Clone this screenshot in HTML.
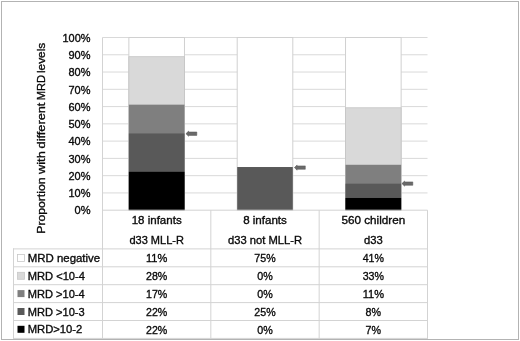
<!DOCTYPE html>
<html><head><meta charset="utf-8"><title>MRD levels</title>
<style>html,body{margin:0;padding:0;background:#fff;}body{width:520px;height:341px;overflow:hidden;font-family:"Liberation Sans",sans-serif;}svg{display:block;will-change:transform;filter:blur(0.35px);}</style>
</head><body>
<svg width="520" height="341" viewBox="0 0 520 341">
<rect x="1.5" y="1.5" width="517" height="338" fill="#fff" stroke="#b3b3b3" stroke-width="1"/>
<line x1="102.5" x2="427.5" y1="192.93" y2="192.93" stroke="#d9d9d9" stroke-width="1"/>
<line x1="102.5" x2="427.5" y1="175.66" y2="175.66" stroke="#d9d9d9" stroke-width="1"/>
<line x1="102.5" x2="427.5" y1="158.39" y2="158.39" stroke="#d9d9d9" stroke-width="1"/>
<line x1="102.5" x2="427.5" y1="141.12" y2="141.12" stroke="#d9d9d9" stroke-width="1"/>
<line x1="102.5" x2="427.5" y1="123.85" y2="123.85" stroke="#d9d9d9" stroke-width="1"/>
<line x1="102.5" x2="427.5" y1="106.58" y2="106.58" stroke="#d9d9d9" stroke-width="1"/>
<line x1="102.5" x2="427.5" y1="89.31" y2="89.31" stroke="#d9d9d9" stroke-width="1"/>
<line x1="102.5" x2="427.5" y1="72.04" y2="72.04" stroke="#d9d9d9" stroke-width="1"/>
<line x1="102.5" x2="427.5" y1="54.77" y2="54.77" stroke="#d9d9d9" stroke-width="1"/>
<line x1="102.5" x2="427.5" y1="37.50" y2="37.50" stroke="#d9d9d9" stroke-width="1"/>
<rect x="128.87" y="37.50" width="55.6" height="172.70" fill="#fff" stroke="#d0d0d0" stroke-width="1"/>
<rect x="128.87" y="56.69" width="55.6" height="153.51" fill="#d9d9d9" stroke="#c4c4c4" stroke-width="0.8"/>
<rect x="128.87" y="104.66" width="55.6" height="105.54" fill="#7f7f7f"/>
<rect x="128.87" y="133.45" width="55.6" height="76.75" fill="#595959"/>
<rect x="128.87" y="171.83" width="55.6" height="38.37" fill="#000000"/>
<rect x="237.20" y="37.50" width="55.6" height="172.70" fill="#fff" stroke="#d0d0d0" stroke-width="1"/>
<rect x="237.20" y="167.02" width="55.6" height="43.18" fill="#595959"/>
<rect x="345.53" y="37.50" width="55.6" height="172.70" fill="#fff" stroke="#d0d0d0" stroke-width="1"/>
<rect x="345.53" y="107.79" width="55.6" height="102.41" fill="#d9d9d9" stroke="#c4c4c4" stroke-width="0.8"/>
<rect x="345.53" y="164.78" width="55.6" height="45.42" fill="#7f7f7f"/>
<rect x="345.53" y="183.69" width="55.6" height="26.51" fill="#595959"/>
<rect x="345.53" y="197.99" width="55.6" height="12.21" fill="#000000"/>
<line x1="102.5" x2="427.5" y1="210.2" y2="210.2" stroke="#d3d3d3"/>
<line x1="13" x2="428.0" y1="248.9" y2="248.9" stroke="#d3d3d3"/>
<line x1="13" x2="428.0" y1="266.8" y2="266.8" stroke="#d3d3d3"/>
<line x1="13" x2="428.0" y1="284.7" y2="284.7" stroke="#d3d3d3"/>
<line x1="13" x2="428.0" y1="302.6" y2="302.6" stroke="#d3d3d3"/>
<line x1="13" x2="428.0" y1="320.5" y2="320.5" stroke="#d3d3d3"/>
<line x1="13" x2="428.0" y1="338.4" y2="338.4" stroke="#d3d3d3"/>
<line x1="13.5" x2="13.5" y1="248.4" y2="338.9" stroke="#d3d3d3"/>
<line x1="102.5" x2="102.5" y1="37.5" y2="338.9" stroke="#d3d3d3"/>
<line x1="210.83" x2="210.83" y1="210.2" y2="338.9" stroke="#d3d3d3"/>
<line x1="319.17" x2="319.17" y1="210.2" y2="338.9" stroke="#d3d3d3"/>
<line x1="427.50" x2="427.50" y1="210.2" y2="338.9" stroke="#d3d3d3"/>
<path d="M185.9 133.7 l2.7 -2.6 v0.9 h8.2 v3.4 h-8.2 v0.9 z" fill="#6a6a6a" stroke="#555" stroke-width="0.5" stroke-linejoin="round"/>
<path d="M294.4 167.6 l2.7 -2.6 v0.9 h8.2 v3.4 h-8.2 v0.9 z" fill="#6a6a6a" stroke="#555" stroke-width="0.5" stroke-linejoin="round"/>
<path d="M401.9 183.6 l2.7 -2.6 v0.9 h8.2 v3.4 h-8.2 v0.9 z" fill="#6a6a6a" stroke="#555" stroke-width="0.5" stroke-linejoin="round"/>
<text x="90.5" y="213.8" font-size="11.5" text-anchor="end" textLength="16.0" lengthAdjust="spacingAndGlyphs" font-family="Liberation Sans, sans-serif" fill="#0a0a0a" stroke="#0a0a0a" stroke-width="0.35">0%</text>
<text x="90.5" y="197.13" font-size="11.5" text-anchor="end" textLength="22.0" lengthAdjust="spacingAndGlyphs" font-family="Liberation Sans, sans-serif" fill="#0a0a0a" stroke="#0a0a0a" stroke-width="0.35">10%</text>
<text x="90.5" y="179.86" font-size="11.5" text-anchor="end" textLength="22.0" lengthAdjust="spacingAndGlyphs" font-family="Liberation Sans, sans-serif" fill="#0a0a0a" stroke="#0a0a0a" stroke-width="0.35">20%</text>
<text x="90.5" y="162.59" font-size="11.5" text-anchor="end" textLength="22.0" lengthAdjust="spacingAndGlyphs" font-family="Liberation Sans, sans-serif" fill="#0a0a0a" stroke="#0a0a0a" stroke-width="0.35">30%</text>
<text x="90.5" y="145.32" font-size="11.5" text-anchor="end" textLength="22.0" lengthAdjust="spacingAndGlyphs" font-family="Liberation Sans, sans-serif" fill="#0a0a0a" stroke="#0a0a0a" stroke-width="0.35">40%</text>
<text x="90.5" y="128.05" font-size="11.5" text-anchor="end" textLength="22.0" lengthAdjust="spacingAndGlyphs" font-family="Liberation Sans, sans-serif" fill="#0a0a0a" stroke="#0a0a0a" stroke-width="0.35">50%</text>
<text x="90.5" y="110.78" font-size="11.5" text-anchor="end" textLength="22.0" lengthAdjust="spacingAndGlyphs" font-family="Liberation Sans, sans-serif" fill="#0a0a0a" stroke="#0a0a0a" stroke-width="0.35">60%</text>
<text x="90.5" y="93.51" font-size="11.5" text-anchor="end" textLength="22.0" lengthAdjust="spacingAndGlyphs" font-family="Liberation Sans, sans-serif" fill="#0a0a0a" stroke="#0a0a0a" stroke-width="0.35">70%</text>
<text x="90.5" y="76.24" font-size="11.5" text-anchor="end" textLength="22.0" lengthAdjust="spacingAndGlyphs" font-family="Liberation Sans, sans-serif" fill="#0a0a0a" stroke="#0a0a0a" stroke-width="0.35">80%</text>
<text x="90.5" y="58.97" font-size="11.5" text-anchor="end" textLength="22.0" lengthAdjust="spacingAndGlyphs" font-family="Liberation Sans, sans-serif" fill="#0a0a0a" stroke="#0a0a0a" stroke-width="0.35">90%</text>
<text x="90.5" y="41.7" font-size="11.5" text-anchor="end" textLength="28.0" lengthAdjust="spacingAndGlyphs" font-family="Liberation Sans, sans-serif" fill="#0a0a0a" stroke="#0a0a0a" stroke-width="0.35">100%</text>
<text transform="translate(44.7,233.7) rotate(-90)" font-size="11.5" text-anchor="start" textLength="56.2" lengthAdjust="spacingAndGlyphs" font-family="Liberation Sans, sans-serif" fill="#0a0a0a" stroke="#0a0a0a" stroke-width="0.35">Proportion</text>
<text transform="translate(44.7,174.1) rotate(-90)" font-size="11.5" text-anchor="start" textLength="22.9" lengthAdjust="spacingAndGlyphs" font-family="Liberation Sans, sans-serif" fill="#0a0a0a" stroke="#0a0a0a" stroke-width="0.35">with</text>
<text transform="translate(44.7,148.4) rotate(-90)" font-size="11.5" text-anchor="start" textLength="45.8" lengthAdjust="spacingAndGlyphs" font-family="Liberation Sans, sans-serif" fill="#0a0a0a" stroke="#0a0a0a" stroke-width="0.35">different</text>
<text transform="translate(44.7,100.2) rotate(-90)" font-size="11.5" text-anchor="start" textLength="25.2" lengthAdjust="spacingAndGlyphs" font-family="Liberation Sans, sans-serif" fill="#0a0a0a" stroke="#0a0a0a" stroke-width="0.35">MRD</text>
<text transform="translate(44.7,73.1) rotate(-90)" font-size="11.5" text-anchor="start" textLength="30.4" lengthAdjust="spacingAndGlyphs" font-family="Liberation Sans, sans-serif" fill="#0a0a0a" stroke="#0a0a0a" stroke-width="0.35">levels</text>
<text x="156.67" y="224.0" font-size="11.5" text-anchor="middle" textLength="50" lengthAdjust="spacingAndGlyphs" font-family="Liberation Sans, sans-serif" fill="#0a0a0a" stroke="#0a0a0a" stroke-width="0.35">18 infants</text>
<text x="156.67" y="244.0" font-size="11.5" text-anchor="middle" textLength="54.5" lengthAdjust="spacingAndGlyphs" font-family="Liberation Sans, sans-serif" fill="#0a0a0a" stroke="#0a0a0a" stroke-width="0.35">d33 MLL-R</text>
<text x="265.0" y="224.0" font-size="11.5" text-anchor="middle" textLength="43.75" lengthAdjust="spacingAndGlyphs" font-family="Liberation Sans, sans-serif" fill="#0a0a0a" stroke="#0a0a0a" stroke-width="0.35">8 infants</text>
<text x="265.0" y="244.0" font-size="11.5" text-anchor="middle" textLength="74" lengthAdjust="spacingAndGlyphs" font-family="Liberation Sans, sans-serif" fill="#0a0a0a" stroke="#0a0a0a" stroke-width="0.35">d33 not MLL-R</text>
<text x="373.33" y="224.0" font-size="11.5" text-anchor="middle" textLength="63.75" lengthAdjust="spacingAndGlyphs" font-family="Liberation Sans, sans-serif" fill="#0a0a0a" stroke="#0a0a0a" stroke-width="0.35">560 children</text>
<text x="373.33" y="244.0" font-size="11.5" text-anchor="middle" textLength="18.75" lengthAdjust="spacingAndGlyphs" font-family="Liberation Sans, sans-serif" fill="#0a0a0a" stroke="#0a0a0a" stroke-width="0.35">d33</text>
<text x="156.67" y="262.1" font-size="11.5" text-anchor="middle" textLength="21.3" lengthAdjust="spacingAndGlyphs" font-family="Liberation Sans, sans-serif" fill="#0a0a0a" stroke="#0a0a0a" stroke-width="0.35">11%</text>
<text x="265.0" y="262.1" font-size="11.5" text-anchor="middle" textLength="21.3" lengthAdjust="spacingAndGlyphs" font-family="Liberation Sans, sans-serif" fill="#0a0a0a" stroke="#0a0a0a" stroke-width="0.35">75%</text>
<text x="373.33" y="262.1" font-size="11.5" text-anchor="middle" textLength="21.3" lengthAdjust="spacingAndGlyphs" font-family="Liberation Sans, sans-serif" fill="#0a0a0a" stroke="#0a0a0a" stroke-width="0.35">41%</text>
<text x="27.7" y="261.90000000000003" font-size="11.5" text-anchor="start" textLength="72.5" lengthAdjust="spacingAndGlyphs" font-family="Liberation Sans, sans-serif" fill="#0a0a0a" stroke="#0a0a0a" stroke-width="0.35">MRD negative</text>
<rect x="17.5" y="254.40000000000003" width="7" height="7" fill="#ffffff" stroke="#c8c8c8" stroke-width="0.8"/>
<text x="156.67" y="280.0" font-size="11.5" text-anchor="middle" textLength="21.3" lengthAdjust="spacingAndGlyphs" font-family="Liberation Sans, sans-serif" fill="#0a0a0a" stroke="#0a0a0a" stroke-width="0.35">28%</text>
<text x="265.0" y="280.0" font-size="11.5" text-anchor="middle" textLength="15.5" lengthAdjust="spacingAndGlyphs" font-family="Liberation Sans, sans-serif" fill="#0a0a0a" stroke="#0a0a0a" stroke-width="0.35">0%</text>
<text x="373.33" y="280.0" font-size="11.5" text-anchor="middle" textLength="21.3" lengthAdjust="spacingAndGlyphs" font-family="Liberation Sans, sans-serif" fill="#0a0a0a" stroke="#0a0a0a" stroke-width="0.35">33%</text>
<text x="27.7" y="279.8" font-size="11.5" text-anchor="start" textLength="57.3" lengthAdjust="spacingAndGlyphs" font-family="Liberation Sans, sans-serif" fill="#0a0a0a" stroke="#0a0a0a" stroke-width="0.35">MRD &lt;10-4</text>
<rect x="17.5" y="272.3" width="7" height="7" fill="#d9d9d9" stroke="#c8c8c8" stroke-width="0.8"/>
<text x="156.67" y="297.8" font-size="11.5" text-anchor="middle" textLength="21.3" lengthAdjust="spacingAndGlyphs" font-family="Liberation Sans, sans-serif" fill="#0a0a0a" stroke="#0a0a0a" stroke-width="0.35">17%</text>
<text x="265.0" y="297.8" font-size="11.5" text-anchor="middle" textLength="15.5" lengthAdjust="spacingAndGlyphs" font-family="Liberation Sans, sans-serif" fill="#0a0a0a" stroke="#0a0a0a" stroke-width="0.35">0%</text>
<text x="373.33" y="297.8" font-size="11.5" text-anchor="middle" textLength="21.3" lengthAdjust="spacingAndGlyphs" font-family="Liberation Sans, sans-serif" fill="#0a0a0a" stroke="#0a0a0a" stroke-width="0.35">11%</text>
<text x="27.7" y="297.6" font-size="11.5" text-anchor="start" textLength="57" lengthAdjust="spacingAndGlyphs" font-family="Liberation Sans, sans-serif" fill="#0a0a0a" stroke="#0a0a0a" stroke-width="0.35">MRD &gt;10-4</text>
<rect x="17.5" y="290.1" width="7" height="7" fill="#7f7f7f"/>
<text x="156.67" y="315.7" font-size="11.5" text-anchor="middle" textLength="21.3" lengthAdjust="spacingAndGlyphs" font-family="Liberation Sans, sans-serif" fill="#0a0a0a" stroke="#0a0a0a" stroke-width="0.35">22%</text>
<text x="265.0" y="315.7" font-size="11.5" text-anchor="middle" textLength="21.3" lengthAdjust="spacingAndGlyphs" font-family="Liberation Sans, sans-serif" fill="#0a0a0a" stroke="#0a0a0a" stroke-width="0.35">25%</text>
<text x="373.33" y="315.7" font-size="11.5" text-anchor="middle" textLength="15.5" lengthAdjust="spacingAndGlyphs" font-family="Liberation Sans, sans-serif" fill="#0a0a0a" stroke="#0a0a0a" stroke-width="0.35">8%</text>
<text x="27.7" y="315.5" font-size="11.5" text-anchor="start" textLength="57" lengthAdjust="spacingAndGlyphs" font-family="Liberation Sans, sans-serif" fill="#0a0a0a" stroke="#0a0a0a" stroke-width="0.35">MRD &gt;10-3</text>
<rect x="17.5" y="308.0" width="7" height="7" fill="#595959"/>
<text x="156.67" y="333.5" font-size="11.5" text-anchor="middle" textLength="21.3" lengthAdjust="spacingAndGlyphs" font-family="Liberation Sans, sans-serif" fill="#0a0a0a" stroke="#0a0a0a" stroke-width="0.35">22%</text>
<text x="265.0" y="333.5" font-size="11.5" text-anchor="middle" textLength="15.5" lengthAdjust="spacingAndGlyphs" font-family="Liberation Sans, sans-serif" fill="#0a0a0a" stroke="#0a0a0a" stroke-width="0.35">0%</text>
<text x="373.33" y="333.5" font-size="11.5" text-anchor="middle" textLength="15.5" lengthAdjust="spacingAndGlyphs" font-family="Liberation Sans, sans-serif" fill="#0a0a0a" stroke="#0a0a0a" stroke-width="0.35">7%</text>
<text x="27.7" y="333.3" font-size="11.5" text-anchor="start" textLength="54.6" lengthAdjust="spacingAndGlyphs" font-family="Liberation Sans, sans-serif" fill="#0a0a0a" stroke="#0a0a0a" stroke-width="0.35">MRD&gt;10-2</text>
<rect x="17.5" y="325.8" width="7" height="7" fill="#000000"/>
</svg>
</body></html>
